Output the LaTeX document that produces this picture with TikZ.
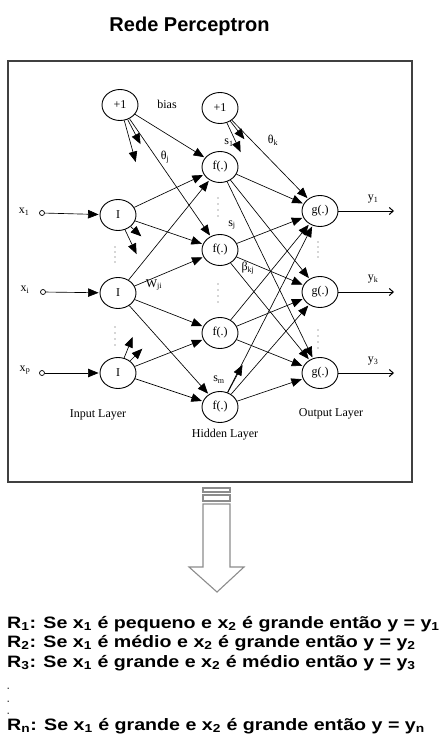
\documentclass[tikz,border=0pt]{standalone}
\usepackage{fontspec}
\usepackage{graphicx}
\setmainfont{Liberation Serif}
\newfontfamily\sansb{Liberation Sans}
\usetikzlibrary{arrows.meta,shapes.geometric}
\begin{document}
\begin{tikzpicture}[x=1pt,y=-1pt,
 neuron/.style={draw, ellipse, minimum width=36pt, minimum height=31pt, inner sep=0pt, line width=0.9pt, font=\fontsize{12}{12}\selectfont},
 conn/.style={line width=0.65pt, -{Triangle[length=10.5pt,width=8.5pt]}, shorten >=1pt},
 inp/.style={draw, circle, minimum size=5pt, inner sep=0pt, line width=0.7pt},
 outarr/.style={line width=1pt, -{Straight Barb[length=4pt,width=7pt]}},
 lbl/.style={font=\fontsize{12}{12}\selectfont, inner sep=0pt},
 layer/.style={font=\fontsize{12}{12}\selectfont, inner sep=0pt},
 rulel/.style={anchor=base west, inner sep=0pt, font=\sansb\bfseries\fontsize{16.5}{16}\selectfont},
 rdot/.style={anchor=base west, inner sep=0pt, font=\sansb\bfseries\fontsize{9}{9}\selectfont, text=black!75},
 dotm/.style={fill=black!70, draw=none},
]
\useasboundingbox (0,0) rectangle (446,754);
% title
\node[font=\sansb\bfseries\fontsize{20}{20}\selectfont, anchor=base, inner sep=0pt] (title) at (189.5,32) {Rede Perceptron};
% frame
\draw[line width=1.2pt, black!75] (8,61) rectangle (412,482);
% neurons
\node[neuron] (b1) at (120,105) {+1};
\node[neuron] (b2) at (220,108) {+1};
\node[neuron] (i1) at (118,215) {I};
\node[neuron] (i2) at (118,293) {I};
\node[neuron] (i3) at (118,373) {I};
\node[neuron] (f1) at (220,167) {f(.)};
\node[neuron] (f2) at (220,250) {f(.)};
\node[neuron] (f3) at (220,333) {f(.)};
\node[neuron] (f4) at (220,407) {f(.)};
\node[neuron] (g1) at (320,211) {g(.)};
\node[neuron] (g2) at (320,292) {g(.)};
\node[neuron] (g3) at (320,373) {g(.)};
% inputs
\node[inp] (x1c) at (42,213) {};
\node[inp] (xic) at (43,292) {};
\node[inp] (xpc) at (42,373) {};
\node[lbl] (x1l) at (24,212) {x\textsubscript{1}};
\node[lbl] (xil) at (25,290) {x\textsubscript{i}};
\node[lbl] (xpl) at (25,370) {x\textsubscript{p}};
\draw[conn] (x1c) -- (i1);
\draw[conn] (xic) -- (i2);
\draw[conn] (xpc) -- (i3);
% bias to hidden
\draw[conn] (b1) -- (f1);
\draw[conn] (b1) -- (f2);
% input to hidden
\draw[conn] (i1) -- (f1);
\draw[conn] (i1) -- (f2);
\draw[conn] (i2) -- (f1);
\draw[conn] (i2) -- (f2);
\draw[conn] (i2) -- (f3);
\draw[conn] (i2) -- (f4);
\draw[conn] (i3) -- (f3);
\draw[conn] (i3) -- (f4);
% hidden to output
\draw[conn] (b2) -- (g1);
\foreach \h in {f1,f2,f3,f4}{
  \foreach \o in {g1,g2,g3}{
    \draw[conn] (\h) -- (\o);
  }
}
% stubs
\coordinate (sb1a) at (141,145);
\coordinate (sb1b) at (136,163);
\coordinate (si1a) at (142,237);
\coordinate (si1b) at (137,255);
\coordinate (si3a) at (133,336);
\coordinate (si3b) at (143,348);
\coordinate (sb2a) at (245,140);
\coordinate (sb2b) at (241,153);
\coordinate (sf4) at (243,364);
\draw[conn] (b1) -- (sb1a);
\draw[conn] (b1) -- (sb1b);
\draw[conn] (i1) -- (si1a);
\draw[conn] (i1) -- (si1b);
\draw[conn] (i3) -- (si3a);
\draw[conn] (i3) -- (si3b);
\draw[conn] (b2) -- (sb2a);
\draw[conn] (b2) -- (sb2b);
\draw[conn] (f4) -- (sf4);
% outputs
\coordinate (y1e) at (394,211);
\coordinate (yke) at (394,292);
\coordinate (y3e) at (394,373);
\draw[outarr] (g1) -- (y1e);
\draw[outarr] (g2) -- (yke);
\draw[outarr] (g3) -- (y3e);
\node[lbl] (y1l) at (373,199) {y\textsubscript{1}};
\node[lbl] (ykl) at (373,279) {y\textsubscript{k}};
\node[lbl] (y3l) at (373,361) {y\textsubscript{3}};
% labels
\node[lbl] (biasl) at (167,104) {bias};
\node[lbl] (thj) at (165,157) {θ\textsubscript{j}};
\node[lbl] (thk) at (273,140) {θ\textsubscript{k}};
\node[lbl] (s1l) at (229,143) {s\textsubscript{1}};
\node[lbl] (sjl) at (232,225) {s\textsubscript{j}};
\node[lbl] (bkj) at (248,268) {β\textsubscript{kj}};
\node[lbl] (wji) at (154,285) {W\textsubscript{ji}};
\node[lbl] (sml) at (219,380) {s\textsubscript{m}};
% layer labels
\node[layer] (inl) at (98,415) {Input Layer};
\node[layer] (hil) at (225,435) {Hidden Layer};
\node[layer] (oul) at (331,414) {Output Layer};
% dots
\foreach \y in {247,252,257,262} \fill[dotm] (115,\y) circle (0.7);
\foreach \y in {327,333,339,345} \fill[dotm] (115,\y) circle (0.7);
\foreach \y in {198,204,210,216} \fill[dotm] (218,\y) circle (0.7);
\foreach \y in {284,290,296,302} \fill[dotm] (218,\y) circle (0.7);
\foreach \y in {242,247,252,257} \fill[dotm] (318,\y) circle (0.7);
\foreach \y in {330,336,342,348} \fill[dotm] (318,\y) circle (0.7);
% big hollow arrow
\draw[black!45, line width=1.1pt] (203,488) rectangle (230,492);
\draw[black!45, line width=1.1pt] (203,495) rectangle (230,501);
\draw[black!45, line width=1.1pt, line join=miter] (203,504) -- (203,567) -- (189,567) -- (217,592) -- (244,567) -- (230,567) -- (230,504) -- cycle;
% rules
\node[rulel] (r1) at (7,628) {\scalebox{1.19}[1]{R\textsubscript{1}: Se x\textsubscript{1} é pequeno e x\textsubscript{2} é grande então y = y\textsubscript{1}}};
\node[rulel] (r2) at (7,647) {\scalebox{1.19}[1]{R\textsubscript{2}: Se x\textsubscript{1} é médio e x\textsubscript{2} é grande então y = y\textsubscript{2}}};
\node[rulel] (r3) at (7,667) {\scalebox{1.19}[1]{R\textsubscript{3}: Se x\textsubscript{1} é grande e x\textsubscript{2} é médio então y = y\textsubscript{3}}};
\node[rdot] (d1) at (7,689) {.};
\node[rdot] (d2) at (7,702) {.};
\node[rdot] (d3) at (7,714) {.};
\node[rulel] (rn) at (7,730) {\scalebox{1.19}[1]{R\textsubscript{n}: Se x\textsubscript{1} é grande e x\textsubscript{2} é grande então y = y\textsubscript{n}}};
\end{tikzpicture}
\end{document}
